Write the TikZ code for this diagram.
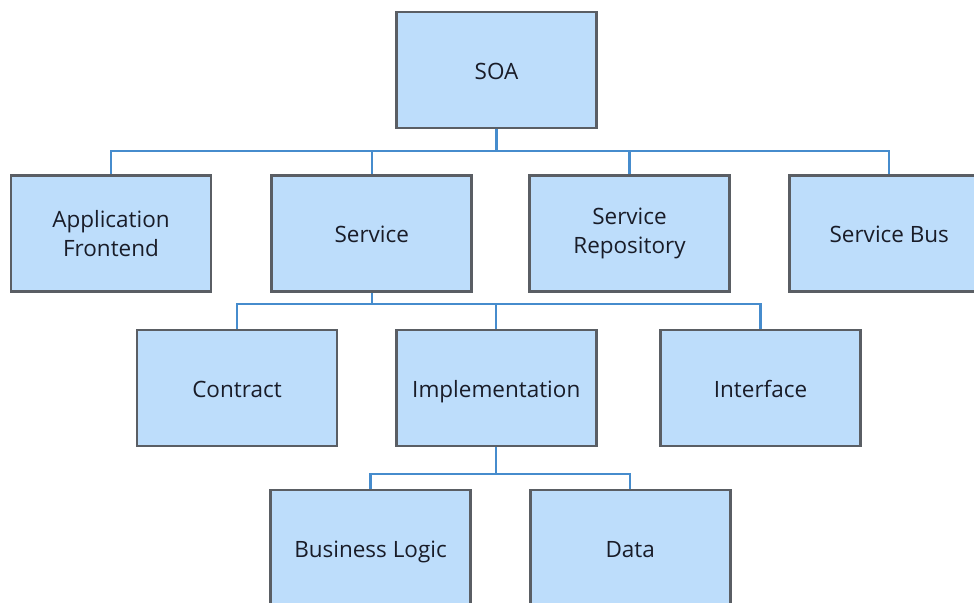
\documentclass[tikz,border=0pt]{standalone}
\usepackage{fontspec}
\setmainfont{Open Sans}
\usepackage{tikz}
\usetikzlibrary{positioning, calc}
\definecolor{BoxBlue}{RGB}{189, 221, 251}
\definecolor{BoxGray}{RGB}{90, 94, 100}
\definecolor{LinkBlue}{RGB}{70, 140, 205}
\definecolor{TextDark}{RGB}{25, 28, 40}

\begin{document}
\begin{tikzpicture}[
    x=0.02cm, y=-0.02cm,
    font=\fontsize{12.8}{17}\selectfont,
    block/.style = {
        rectangle, draw=BoxGray, line width=1.6pt, fill=BoxBlue,
        minimum width=4cm, minimum height=2.32cm,
        text=TextDark, align=center, inner sep=4pt
    },
    oneline/.style = {text height=2.4ex, text depth=0.45ex},
    link/.style = {draw=LinkBlue, line width=1.2pt}
]
\useasboundingbox (0,0) rectangle (974,602);

% ===== TOP =====
\node[block, oneline] (soa) at (496.5,70) {SOA};

% ===== LEVEL 1 =====
\node[block] (appfront) at (111,233.5) {Application\\Frontend};
\node[block, oneline, right=1.16cm of appfront] (service) {Service};
\node[block, right=1.1cm of service] (repo) {Service\\Repository};
\node[block, oneline, right=1.14cm of repo] (bus) {Service Bus};

% ===== LEVEL 2 =====
\node[block, oneline] (contract) at (237,388) {Contract};
\node[block, oneline, right=1.13cm of contract] (impl) {Implementation};
\node[block, oneline, right=1.23cm of impl] (iface) {Interface};

% ===== LEVEL 3 =====
\node[block, oneline] (logic) at (370.5,548) {Business Logic};
\node[block, oneline, right=1.14cm of logic] (data) {Data};

% ===== LINKS =====
\foreach \child in {appfront, service, repo, bus}
    \draw[link] (soa.south) -- ++(0,22) -| (\child.north);
\foreach \child in {contract, impl, iface}
    \draw[link] (service.south) -- ++(0,11) -| (\child.north);
\foreach \child in {logic, data}
    \draw[link] (impl.south) -- ++(0,27) -| (\child.north);
\end{tikzpicture}
\end{document}
